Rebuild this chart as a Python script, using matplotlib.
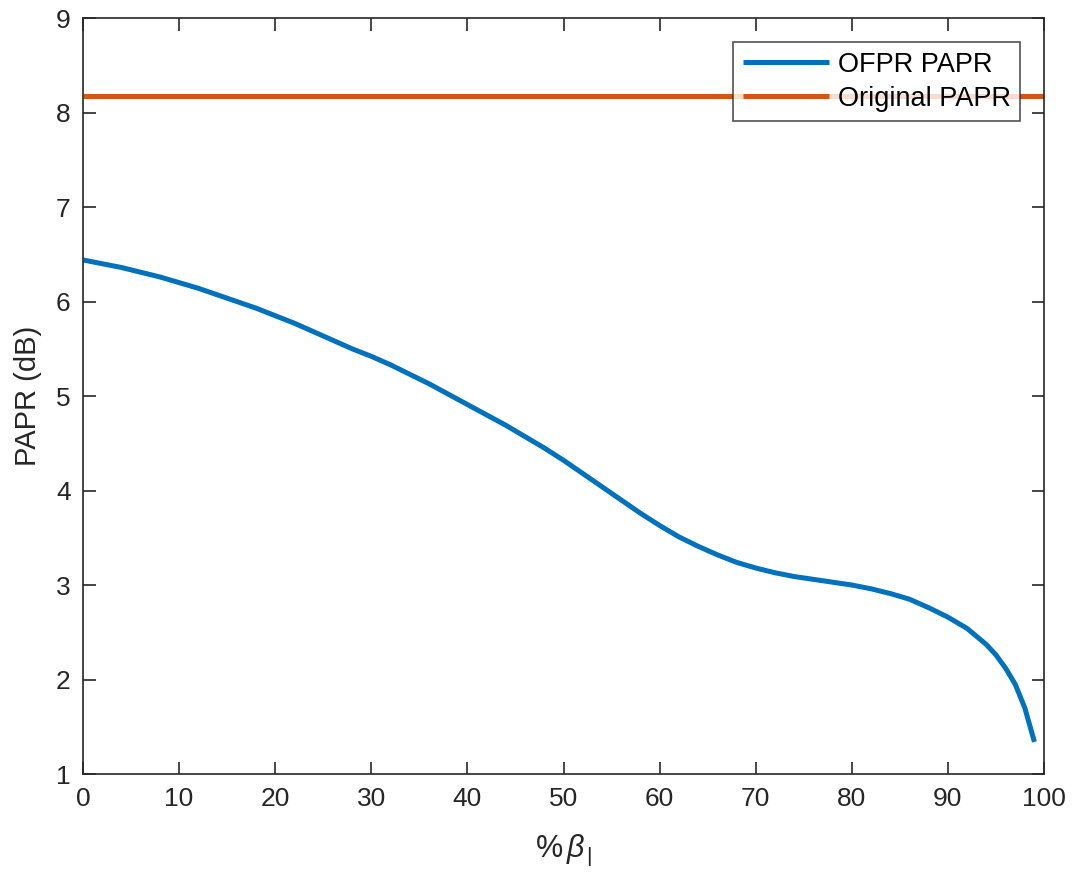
import matplotlib
matplotlib.use("Agg")
import matplotlib.pyplot as plt

beta_pct = [0, 2, 4, 6, 8, 10, 12, 14, 16, 18, 20, 22, 24, 26, 28, 30, 32, 34, 36, 38, 40, 42, 44, 46, 48,
            50, 52, 54, 56, 58, 60, 62, 64, 66, 68, 70, 72, 74, 76, 78, 80, 82, 84, 86, 88, 90, 92, 94,
            95, 96, 97, 98, 99]
ofpr_papr = [6.44, 6.40, 6.36, 6.31, 6.26, 6.20, 6.14, 6.07, 6.00, 5.93, 5.85, 5.77, 5.68, 5.59, 5.50,
             5.42, 5.33, 5.23, 5.13, 5.02, 4.91, 4.80, 4.69, 4.57, 4.45, 4.32, 4.18, 4.04, 3.90, 3.76,
             3.63, 3.51, 3.41, 3.32, 3.24, 3.18, 3.13, 3.09, 3.06, 3.03, 3.00, 2.96, 2.91, 2.85, 2.76,
             2.66, 2.54, 2.37, 2.26, 2.12, 1.95, 1.70, 1.34]
original_papr = 8.17
x_ticks = list(range(0, 101, 10))
y_ticks = list(range(1, 10))

plt.rcParams['font.family'] = ['Liberation Sans', 'DejaVu Sans']
plt.rcParams['mathtext.fontset'] = 'custom'
plt.rcParams['mathtext.rm'] = 'Liberation Sans'
plt.rcParams['mathtext.it'] = 'Liberation Sans:italic'

ax_col = '#262626'
fig = plt.figure(figsize=(10.74, 8.75), dpi=100)
ax = fig.add_axes([0.0773, 0.1154, 0.8948, 0.8640])

ax.plot(beta_pct, ofpr_papr, color='#0072BD', lw=3.6, label='OFPR PAPR', solid_capstyle='butt')
ax.plot([0, 100], [original_papr, original_papr], color='#D95319', lw=3.6, label='Original PAPR',
        solid_capstyle='butt')

ax.set_xlim(0, 100)
ax.set_ylim(1, 9)
ax.set_xticks(x_ticks)
ax.set_yticks(y_ticks)
ax.tick_params(direction='in', length=9, width=1.2, color=ax_col, labelcolor=ax_col,
               labelsize=19, top=True, right=True, pad=9)
for s in ax.spines.values():
    s.set_color(ax_col)
    s.set_linewidth(1.2)

ax.set_ylabel('PAPR (dB)', fontsize=21, color=ax_col, labelpad=10)
ax.set_xlabel(r'%$\,\beta_{\,\mathrm{|}}$', fontsize=22, color=ax_col, labelpad=16)

leg = ax.legend(loc='upper right', bbox_to_anchor=(0.975, 0.968), borderaxespad=0,
                fontsize=19.5, frameon=True, fancybox=False, handlelength=3.2,
                edgecolor=ax_col, borderpad=0.35, labelspacing=0.3, handletextpad=0.3)
leg.get_frame().set_linewidth(1.2)
for t in leg.get_texts():
    t.set_color('black')

fig.savefig('out.png', dpi=100, facecolor='white')
